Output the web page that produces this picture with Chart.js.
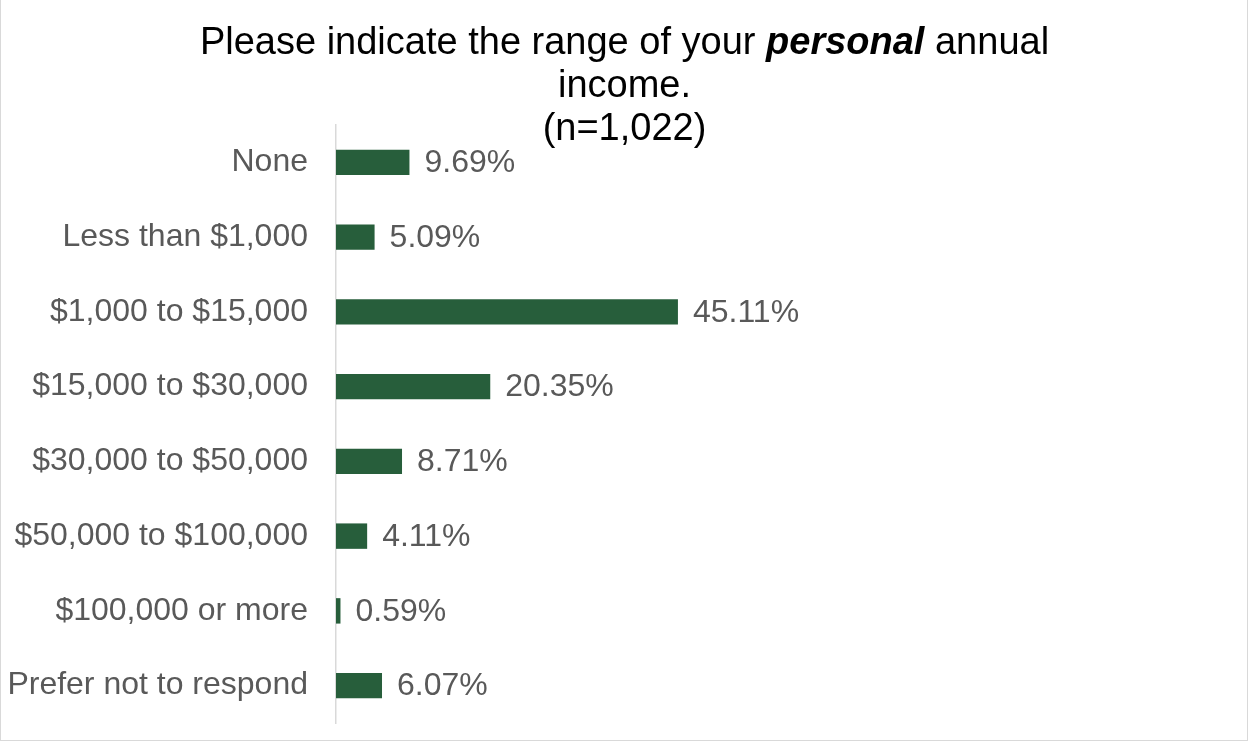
<!DOCTYPE html>
<html>
<head>
<meta charset="utf-8">
<script src="https://cdn.jsdelivr.net/npm/chart.js@4.4.1/dist/chart.umd.min.js"></script>
<style>
  html, body { margin:0; padding:0; background:#fff; }
  #wrap { position:relative; width:1249px; height:742px; }
</style>
</head>
<body>
<div id="wrap"><canvas id="incomeChart"></canvas></div>
<script>
const categories = [
    'None',
    'Less than $1,000',
    '$1,000 to $15,000',
    '$15,000 to $30,000',
    '$30,000 to $50,000',
    '$50,000 to $100,000',
    '$100,000 or more',
    'Prefer not to respond'
];
const percentages = [9.69, 5.09, 45.11, 20.35, 8.71, 4.11, 0.59, 6.07];
const titleLine1  = ['Please indicate the range of your ', 'personal', ' annual'];
const titleLine2  = 'income.';
const titleLine3  = '(n=1,022)';

const FONT = '"Liberation Sans", Arial, sans-serif';

// title drawn by hand so "personal" can be bold italic
const titlePlugin = {
    id: 'mixedTitle',
    afterDraw(chart) {
        const ctx = chart.ctx;
        const cx  = chart.width / 2;
        const normal = `38px ${FONT}`;
        const bold   = `italic bold 38px ${FONT}`;
        ctx.save();
        ctx.fillStyle = '#000';
        ctx.textBaseline = 'alphabetic';
        const fonts = [normal, bold, normal];
        let widths = titleLine1.map((t, i) => { ctx.font = fonts[i]; return ctx.measureText(t).width; });
        let x = cx - widths.reduce((a, b) => a + b, 0) / 2;
        ctx.textAlign = 'left';
        titleLine1.forEach((t, i) => { ctx.font = fonts[i]; ctx.fillText(t, x, 54); x += widths[i]; });
        ctx.font = normal;
        ctx.textAlign = 'center';
        ctx.fillText(titleLine2, cx, 97);
        ctx.fillText(titleLine3, cx, 140);
        ctx.restore();
    }
};

const valueLabels = {
    id: 'valueLabels',
    afterDatasetsDraw(chart) {
        const ctx = chart.ctx;
        ctx.save();
        ctx.font = `32px ${FONT}`;
        ctx.fillStyle = '#595959';
        ctx.textAlign = 'left';
        ctx.textBaseline = 'middle';
        chart.getDatasetMeta(0).data.forEach((bar, i) => {
            ctx.fillText(percentages[i].toFixed(2) + '%', bar.x + 15, bar.y + 1);
        });
        ctx.restore();
    }
};

const frame = {
    id: 'frame',
    afterDraw(chart) {
        const ctx = chart.ctx;
        ctx.save();
        ctx.strokeStyle = '#d9d9d9';
        ctx.lineWidth = 1;
        ctx.strokeRect(0.5, -2, chart.width - 2, chart.height + 0.5);
        ctx.restore();
    }
};

new Chart(document.getElementById('incomeChart'), {
    type: 'bar',
    data: {
        labels: categories,
        datasets: [{
            data: percentages,
            backgroundColor: '#275e3b',
            borderWidth: 0,
            categoryPercentage: 1,
            barPercentage: 0.34
        }]
    },
    options: {
        indexAxis: 'y',
        responsive: true,
        maintainAspectRatio: false,
        animation: false,
        layout: { padding: { top: 125, bottom: 19, right: 155, left: 0 } },
        plugins: { legend: { display: false }, title: { display: false }, tooltip: { enabled: false } },
        scales: {
            x: { display: false, min: 0, max: 100 },
            y: {
                grid: { display: false },
                border: { display: true, color: '#d9d9d9', width: 1.5 },
                ticks: { color: '#595959', font: { size: 32, family: FONT }, padding: 20 },
                afterFit(scale) {
                    scale.width = 336;
                    scale.paddingTop = 0;
                    scale.paddingBottom = 0;
                }
            }
        }
    },
    plugins: [titlePlugin, valueLabels, frame]
});
</script>
</body>
</html>
